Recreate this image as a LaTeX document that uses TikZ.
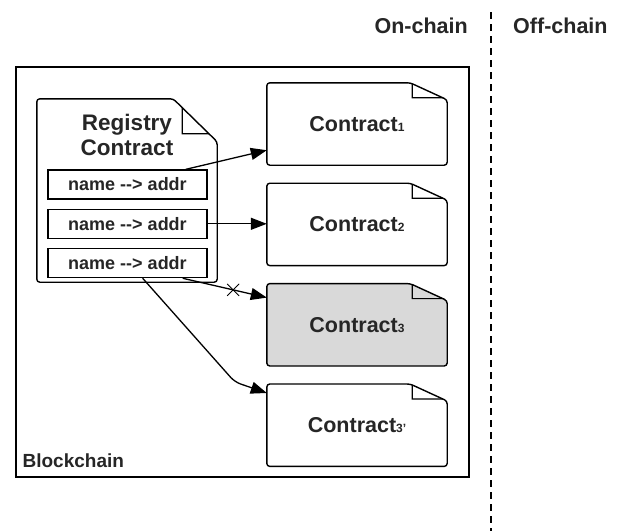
\documentclass[tikz,border=0pt]{standalone}
\usepackage{fontspec}
\setmainfont{Liberation Sans}
\usepackage{xcolor}
\usepackage{tikz}
\usetikzlibrary{arrows.meta,positioning,calc,backgrounds,shapes.misc}

\definecolor{inkgray}{HTML}{262626}
\definecolor{oldgray}{HTML}{D9D9D9}

% small index after Contract
\newcommand{\cidx}[1]{{\fontsize{12}{12}\selectfont #1}}
% document outline with folded corner: [fill]{node}{fold w}{fold h}{inner x}{inner y}
\newcommand{\docshape}[6][white]{%
	\coordinate (#2-a) at ([xshift=-#3pt]#2.north east);
	\coordinate (#2-b) at ([yshift=-#4pt]#2.north east);
	\draw[docline,fill=#1] (#2.south west) -- (#2.north west) -- (#2-a) -- (#2-b) -- (#2.south east) -- cycle;
	\draw[foldline] ($(#2-a)!{(#3-#5)/#3}!(#2-b)$) -- ([xshift=-#5pt,yshift=-#6pt]#2.north east) -- ($(#2-a)!{#6/#4}!(#2-b)$);
}

\begin{document}
\begin{tikzpicture}[>={Triangle[length=16pt,width=12pt]},x=1pt,y=-1pt,
	docline/.style={line width=1.4pt,rounded corners=3pt},
	foldline/.style={line width=1.2pt},
	contract/.style={minimum width=180pt,minimum height=82pt,inner sep=0pt,text=inkgray,font=\fontsize{21.5}{24}\selectfont\bfseries},
	namebox/.style={draw,line width=1.3pt,minimum width=159pt,minimum height=29pt,inner sep=0pt,text=inkgray,font=\fontsize{18}{22}\selectfont\bfseries},
	label/.style={inner sep=0pt,text=inkgray,font=\fontsize{19}{22}\selectfont\bfseries},
	link/.style={->,line width=1.3pt}]
	\useasboundingbox (0,0) rectangle (621,531);
	
	\node[draw,line width=1.2pt,minimum width=453pt,minimum height=410pt] (chain) at (242.5,272) {};
	\node[label,anchor=base west] (chainlbl) at ([xshift=7pt,yshift=10pt]chain.south west) {Blockchain};
	
	\node[label,anchor=base east,font=\fontsize{21.5}{24}\selectfont\bfseries] (onlbl) at (468,33) {On-chain};
	\node[label,anchor=base west,font=\fontsize{21.5}{24}\selectfont\bfseries] (offlbl) at (513,33) {Off-chain};
	\coordinate (divtop) at (491,12);
	\coordinate (divbot) at (491,531);
	\draw[line width=1.3pt,dash pattern=on 7pt off 5pt] (divtop) -- (divbot);
	
	% registry
	\node[minimum width=180pt,minimum height=183pt] (reg) at (127,190.5) {};
	\node[label,anchor=north,align=center,font=\fontsize{22.5}{25}\selectfont\bfseries] (regtitle) at (127,114) {Registry\\Contract};
	\node[namebox] (nm1) at (127.5,184.5) {name -{}-{}> addr};
	\node[namebox] (nm2) [below=9pt of nm1] {name -{}-{}> addr};
	\node[namebox] (nm3) [below=9pt of nm2] {name -{}-{}> addr};
	
	% contracts
	\node[contract] (c1) at (357,124) {Contract\cidx{1}};
	\node[contract] (c2) [below=18pt of c1] {Contract\cidx{2}};
	\node[contract] (c3) [below=18pt of c2] {Contract\cidx{3}};
	\node[contract] (c4) [below=18pt of c3] {Contract\cidx{3'}};
	
	\begin{scope}[on background layer]
		\docshape{reg}{44}{43}{35}{35}
		\docshape{c1}{37}{17}{35}{15}
		\docshape{c2}{37}{17}{35}{15}
		\docshape[oldgray]{c3}{37}{17}{35}{15}
		\docshape{c4}{37}{17}{35}{15}
	\end{scope}
	
	\draw[link] ([xshift=-22pt]nm1.north east) -- ([yshift=15pt]c1.south west);
	\draw[link] (nm2.east) -- (c2.west |- nm2.east);
	\draw[link] ([xshift=-25pt]nm3.south east) -- node[pos=0.6,cross out,draw,line width=1pt,minimum size=11pt,inner sep=0pt] (x3) {} ([yshift=-14pt]c3.north west);
	\draw[link,rounded corners=6pt] ([xshift=-65pt]nm3.south east) -- ([xshift=-32pt,yshift=2pt]c4.north west) -- ([yshift=-9pt]c4.north west);
\end{tikzpicture}
\end{document}
